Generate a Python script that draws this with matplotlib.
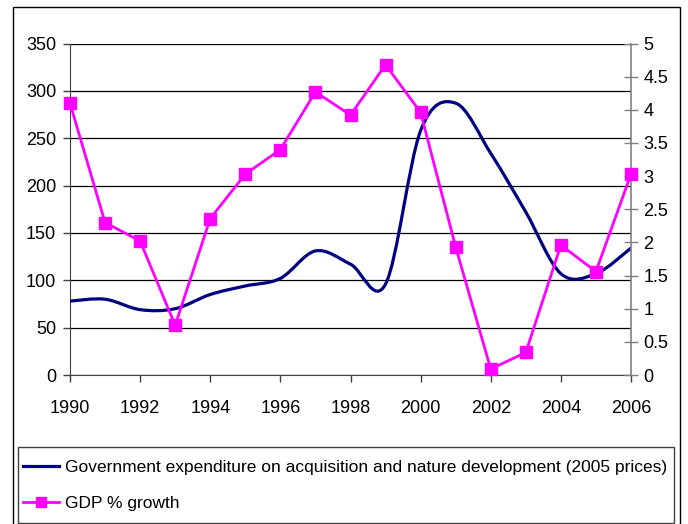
import numpy as np
import matplotlib
matplotlib.use("Agg")
import matplotlib.pyplot as plt
from matplotlib.path import Path
from matplotlib.patches import PathPatch, Rectangle
from matplotlib.lines import Line2D

# ---- data ----
years = [1990, 1991, 1992, 1993, 1994, 1995, 1996, 1997, 1998,
         1999, 2000, 2001, 2002, 2003, 2004, 2005, 2006]
expenditure = [78, 80, 69, 70, 85, 94, 102, 131, 117,
               96, 258, 287, 234, 172, 107, 107, 134]
gdp_growth = [4.10, 2.30, 2.02, 0.75, 2.36, 3.03, 3.40, 4.27, 3.92,
              4.68, 3.96, 1.93, 0.09, 0.34, 1.96, 1.56, 3.03]
x_ticks = [1990, 1992, 1994, 1996, 1998, 2000, 2002, 2004, 2006]
left_ticks = [0, 50, 100, 150, 200, 250, 300, 350]
right_ticks = [0, 0.5, 1, 1.5, 2, 2.5, 3, 3.5, 4, 4.5, 5]
label_exp = "Government expenditure on acquisition and nature development (2005 prices)"
label_gdp = "GDP % growth"

plt.rcParams['font.family'] = ['Liberation Sans', 'DejaVu Sans']

W, H = 688, 524
fig = plt.figure(figsize=(W / 100, H / 100), dpi=100)

def fx(px):
    return px / W

def fy(py):
    return 1 - py / H

# outer chart frame
fig.patches.append(Rectangle((fx(13), fy(530)), fx(680) - fx(13), fy(7) - fy(530),
                             transform=fig.transFigure, fill=False,
                             edgecolor='black', linewidth=1.0))
# legend frame
fig.patches.append(Rectangle((fx(18), fy(523)), fx(674) - fx(18), fy(447) - fy(523),
                             transform=fig.transFigure, fill=False,
                             edgecolor='#404040', linewidth=1.0))

ax = fig.add_axes([fx(70), fy(375), fx(631) - fx(70), fy(43.5) - fy(375)])
ax.set_facecolor('none')
ax.set_xlim(1990, 2006)
ax.set_ylim(0, 350)

# smooth (Excel-style Bezier) line for expenditure
xs = np.asarray(years, dtype=float)
ys = np.asarray(expenditure, dtype=float)
n = len(xs)
verts = [(xs[0], ys[0])]
codes = [Path.MOVETO]
for i in range(n - 1):
    p0 = np.array([xs[max(i - 1, 0)], ys[max(i - 1, 0)]])
    p1 = np.array([xs[i], ys[i]])
    p2 = np.array([xs[i + 1], ys[i + 1]])
    p3 = np.array([xs[min(i + 2, n - 1)], ys[min(i + 2, n - 1)]])
    c1 = p1 + (p2 - p0) / 6.0
    c2 = p2 - (p3 - p1) / 6.0
    verts += [tuple(c1), tuple(c2), tuple(p2)]
    codes += [Path.CURVE4] * 3
ax.add_patch(PathPatch(Path(verts, codes), facecolor='none', edgecolor='#000080',
                       linewidth=2.3, capstyle='round', joinstyle='round', zorder=3))

ax.set_yticks(left_ticks)
ax.set_xticks(x_ticks)
ax.grid(axis='y', color='black', linewidth=0.9, zorder=0)
ax.set_axisbelow(True)
for s in ['top', 'right']:
    ax.spines[s].set_visible(False)
ax.spines['left'].set_color('#404040')
ax.spines['bottom'].set_color('#404040')
ax.tick_params(axis='both', direction='out', length=5, width=1, colors='#404040',
               labelcolor='black', labelsize=13)
ax.tick_params(axis='y', pad=5)
ax.tick_params(axis='x', pad=13)

ax2 = ax.twinx()
ax2.set_ylim(0, 5)
ax2.set_yticks(right_ticks)
ax2.set_yticklabels([f"{v:g}" for v in right_ticks])
ax2.plot(years, gdp_growth, color='#FF00FF', linewidth=2.0, marker='s',
         markersize=8.5, markeredgecolor='#FF00FF', markerfacecolor='#FF00FF',
         clip_on=False, zorder=4)
for s in ['top', 'left', 'bottom']:
    ax2.spines[s].set_visible(False)
ax2.spines['right'].set_color('#808080')
ax2.spines['right'].set_linewidth(1.2)
ax2.tick_params(axis='y', direction='inout', length=10, width=1, colors='#808080',
                labelcolor='black', labelsize=13, pad=4)

# legend entries (frame drawn above)
handles = [Line2D([], [], color='#000080', linewidth=2.3),
           Line2D([], [], color='#FF00FF', linewidth=2.0, marker='s', markersize=7)]
leg = fig.legend(handles, [label_exp, label_gdp], loc='upper left',
                 bbox_to_anchor=(fx(23), fy(460)), bbox_transform=fig.transFigure,
                 frameon=False, fontsize=12.5,
                 handlelength=2.1, handletextpad=0.3, borderpad=0,
                 labelspacing=1.2, borderaxespad=0)

fig.savefig("out.png", dpi=100)
